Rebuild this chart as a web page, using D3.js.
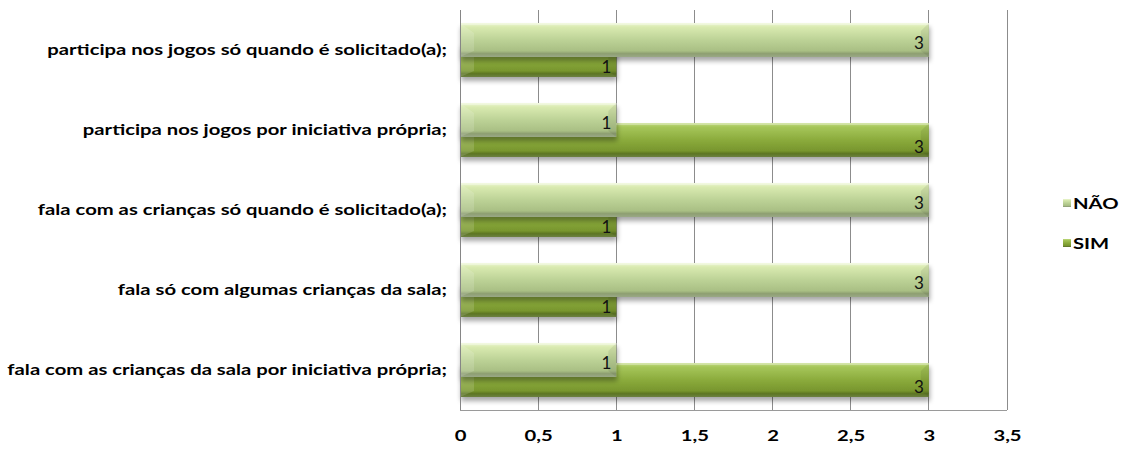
<!DOCTYPE html>
<html><head><meta charset="utf-8">
<script src="https://cdn.jsdelivr.net/npm/d3@7"></script>
<style>body{margin:0;background:#fff}svg{display:block}</style>
</head><body>
<svg id="c" width="1127" height="450"></svg>
<script>
const categories = [
  "participa nos jogos só quando é solicitado(a);",
  "participa nos jogos por iniciativa própria;",
  "fala com as crianças só quando é solicitado(a);",
  "fala só com algumas crianças da sala;",
  "fala com as crianças da sala por iniciativa própria;"
];
const naoValues = [3, 1, 3, 3, 1];
const simValues = [1, 3, 1, 1, 3];
const seriesNames = ["NÃO", "SIM"];
const xTicks = [0, 0.5, 1, 1.5, 2, 2.5, 3, 3.5];

(function () {
const svg = d3.select("#c");
const pLeft = 460, pRight = 1007, pTop = 10, pBottom = 410;
const x = d3.scaleLinear().domain([0, 3.5]).range([pLeft, pRight]);
const y = d3.scaleBand().domain(categories).range([pTop, pBottom]);
const font = "Lato, 'Open Sans', sans-serif";

const defs = svg.append("defs");
function grad(id, stops) {
  const g = defs.append("linearGradient").attr("id", id).attr("x1", 0).attr("y1", 0).attr("x2", 0).attr("y2", 1);
  stops.forEach(s => g.append("stop").attr("offset", s[0]).attr("stop-color", s[1]));
}
grad("gNao", [[0, "#eef7d6"], [0.12, "#d9eab0"], [0.5, "#bcd296"], [0.82, "#a9bf84"], [0.9, "#8e9f72"], [1, "#9aa886"]]);
grad("gSim", [[0, "#c4dc86"], [0.12, "#a6c65a"], [0.5, "#8bab3c"], [0.82, "#78962e"], [0.9, "#5d7624"], [1, "#6c8040"]]);
const f = defs.append("filter").attr("id", "sh").attr("x", "-5%").attr("y", "-20%").attr("width", "115%").attr("height", "160%");
f.append("feGaussianBlur").attr("in", "SourceAlpha").attr("stdDeviation", 2.5);
f.append("feOffset").attr("dx", 1).attr("dy", 4).attr("result", "b");
f.append("feComponentTransfer").append("feFuncA").attr("type", "linear").attr("slope", 0.35);
const fm = f.append("feMerge"); fm.append("feMergeNode"); fm.append("feMergeNode").attr("in", "SourceGraphic");

// gridlines
svg.append("g").selectAll("line").data(xTicks.slice(1)).join("line")
  .attr("x1", d => x(d)).attr("x2", d => x(d)).attr("y1", pTop).attr("y2", pBottom)
  .attr("stroke", "#8c8c8c").attr("stroke-width", 1).attr("shape-rendering", "crispEdges");

const barH = 34;
function drawBars(vals, gradId, off) {
  const g = svg.append("g");
  categories.forEach((c, i) => {
    const y0 = y(c) + off, x0 = x(0), x1 = x(vals[i]);
    const bg = g.append("g").attr("filter", "url(#sh)");
    bg.append("rect").attr("x", x0).attr("y", y0).attr("width", x1 - x0).attr("height", barH).attr("fill", `url(#${gradId})`);
    bg.append("path").attr("d", `M${x0},${y0}L${x0+14},${y0+10}L${x0+14},${y0+barH-6}L${x0},${y0+barH}Z`).attr("fill", "#fff").attr("opacity", 0.14);
    bg.append("path").attr("d", `M${x1},${y0}L${x1-8},${y0+8}L${x1-8},${y0+barH-6}L${x1},${y0+barH}Z`).attr("fill", "#000").attr("opacity", 0.07);
    bg.append("rect").attr("x", x0).attr("y", y0).attr("width", x1 - x0).attr("height", 2).attr("fill", "#fff").attr("opacity", 0.3);
  });
  return g;
}
drawBars(simValues, "gSim", 33);
drawBars(naoValues, "gNao", 13);

// value labels
svg.append("g").selectAll("text").data(categories).join("text")
  .attr("x", (c, i) => x(simValues[i]) - 5).attr("y", c => y(c) + 33 + barH - 11)
  .attr("text-anchor", "end").attr("dominant-baseline", "central")
  .attr("font-family", font).attr("font-size", 17).attr("fill", "#111")
  .text((c, i) => simValues[i]);
svg.append("g").selectAll("text").data(categories).join("text")
  .attr("x", (c, i) => x(naoValues[i]) - 5).attr("y", c => y(c) + 13 + barH / 2 + 2)
  .attr("text-anchor", "end").attr("dominant-baseline", "central")
  .attr("font-family", font).attr("font-size", 17).attr("fill", "#111")
  .text((c, i) => naoValues[i]);

// axis lines
svg.append("line").attr("x1", pLeft).attr("x2", pLeft).attr("y1", pTop).attr("y2", pBottom)
  .attr("stroke", "#868686").attr("shape-rendering", "crispEdges");
svg.append("line").attr("x1", pLeft).attr("x2", pRight).attr("y1", pBottom).attr("y2", pBottom)
  .attr("stroke", "#9a9a9a").attr("shape-rendering", "crispEdges");

// category labels (measure for horizontal stretch)
const ya = svg.append("g").attr("transform", `translate(${pLeft},0)`)
  .call(d3.axisLeft(y).tickSize(0).tickPadding(0));
ya.select(".domain").remove();
ya.selectAll("text").attr("font-family", font).attr("font-size", 16).attr("font-weight", "bold").attr("fill", "#000");
let maxW = 0;
ya.selectAll("text").each(function () { maxW = Math.max(maxW, this.getComputedTextLength()); });
const k = 440 / maxW;
ya.selectAll("text").attr("x", -13 / k).attr("transform", `scale(${k},1)`);

// x axis labels
const xa = svg.append("g").attr("transform", `translate(0,${pBottom})`)
  .call(d3.axisBottom(x).tickValues(xTicks).tickSize(0).tickPadding(20).tickFormat(d => String(d).replace(".", ",")));
xa.select(".domain").remove();
xa.selectAll("text").attr("font-family", font).attr("font-size", 16).attr("font-weight", "bold").attr("fill", "#000")
  .attr("transform", `scale(${k},1)`);

// legend
const lg = svg.append("g");
[[seriesNames[0], "gNao", 203], [seriesNames[1], "gSim", 243]].forEach(([t, gid, ly]) => {
  lg.append("rect").attr("x", 1063).attr("y", ly - 4).attr("width", 8).attr("height", 8).attr("fill", `url(#${gid})`);
  lg.append("g").attr("transform", `translate(1073,${ly}) scale(${k},1)`)
    .append("text").attr("dominant-baseline", "central")
    .attr("font-family", font).attr("font-size", 16).attr("font-weight", "bold").attr("fill", "#000").text(t);
});
})();
</script>
</body></html>
